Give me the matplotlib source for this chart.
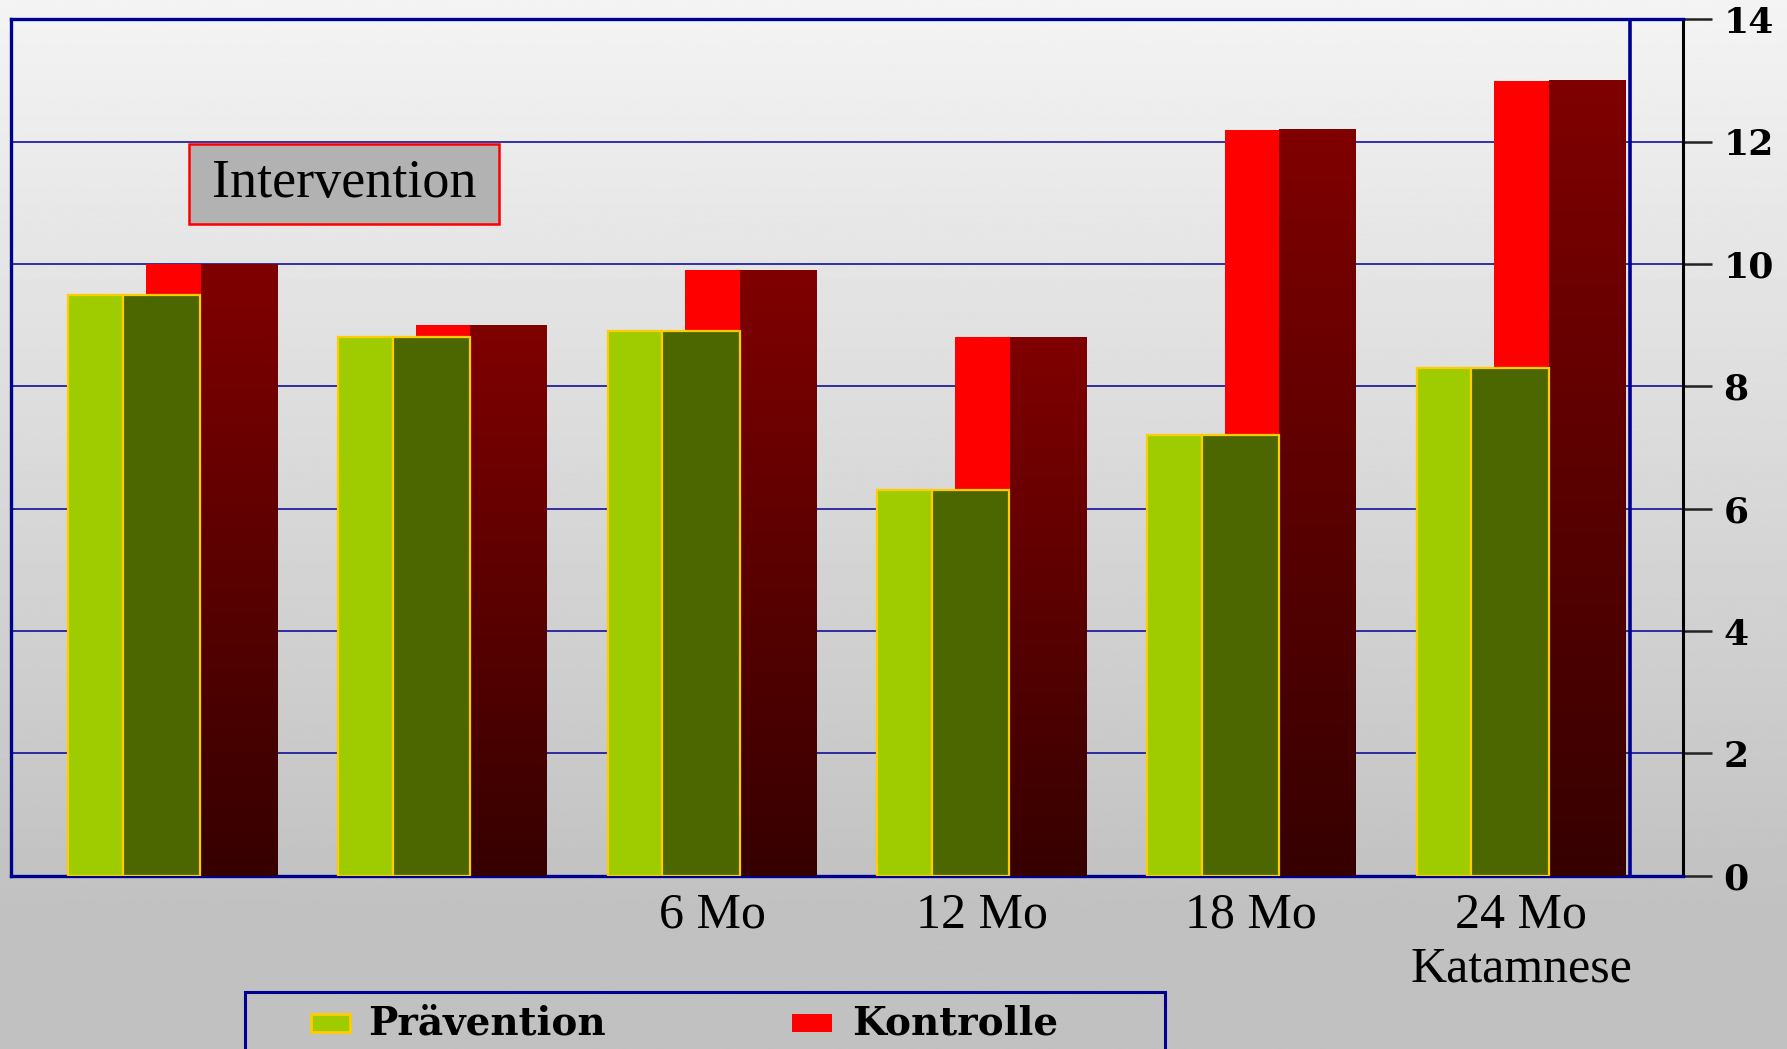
import numpy as np
import matplotlib
matplotlib.use("Agg")
from matplotlib import pyplot as plt
from matplotlib.patches import Rectangle
from matplotlib.colors import LinearSegmentedColormap

# follow-up points (first two are unlabelled)
categories = ["", "", "6 Mo", "12 Mo", "18 Mo", "24 Mo\nKatamnese"]
praevention = [9.5, 8.8, 8.9, 6.3, 7.2, 8.3]
kontrolle = [10.0, 9.0, 9.9, 8.8, 12.2, 13.0]
yticks = [0, 2, 4, 6, 8, 10, 12, 14]
series_names = ["Prävention", "Kontrolle"]

navy = "#000090"
light_green = "#9FCC00"
dark_green = "#4C6600"
gold = "#FFCC00"

fig = plt.figure(figsize=(17.87, 10.49), dpi=100)

# background: light grey fading to silver towards the bottom
bg = fig.add_axes([0, 0, 1, 1], zorder=-10)
rows = np.linspace(0, 1, 400)
shade = np.clip(0.955 - (0.955 - 0.76) * rows / 0.85, 0.755, 1)
bg.imshow(shade[:, None], cmap="gray", vmin=0, vmax=1, aspect="auto",
          extent=[0, 1, 0, 1], origin="upper")
bg.axis("off")

ax = fig.add_axes([0.00638, 0.1652, 0.9356, 0.8163])
ax.set_facecolor("none")
x = np.arange(len(categories))

# each bar is a front face plus a darker side face
ax.bar(x - 0.387, praevention, width=0.203, align="edge", color=light_green,
       edgecolor=gold, linewidth=1.6, zorder=4)
ax.bar(x - 0.184, praevention, width=0.287, align="edge", color=dark_green,
       edgecolor=gold, linewidth=1.6, zorder=4)
ax.bar(x - 0.099, kontrolle, width=0.203, align="edge", color="#FF0000",
       linewidth=0, zorder=3)
sides = ax.bar(x + 0.104, kontrolle, width=0.283, align="edge", color="#800000",
               linewidth=0, zorder=3)

# dark red side faces shade to near black at the base
red_fade = LinearSegmentedColormap.from_list("redfade", ["#360000", "#800000"])
grad = np.linspace(0, 1, 256)[:, None]
for p in sides:
    x0, y0 = p.get_x(), p.get_y()
    ax.imshow(grad, cmap=red_fade, aspect="auto", origin="lower",
              extent=[x0, x0 + p.get_width(), y0, y0 + p.get_height()], zorder=3.5)

ax.set_xlim(-0.598, 5.602)
ax.set_ylim(0, 14)

for v in yticks[1:-1]:
    ax.axhline(v, color=navy, linewidth=1.1, zorder=1)
ax.axvline(5.404, color=navy, linewidth=2.6, zorder=5)

for side in ["left", "top", "bottom"]:
    ax.spines[side].set_color(navy)
    ax.spines[side].set_linewidth(2.4)
ax.spines["right"].set_color("black")
ax.spines["right"].set_linewidth(2.2)

ax.yaxis.tick_right()
ax.set_yticks(yticks)
ax.set_yticklabels([str(v) for v in yticks], family="DejaVu Serif",
                   fontweight="bold", fontsize=26)
ax.tick_params(axis="y", length=21, width=1.8, color="#222222", pad=8)

ax.set_xticks(x)
ax.set_xticklabels(categories, family="Liberation Serif", fontsize=36,
                   linespacing=1.2)
ax.tick_params(axis="x", length=0, pad=12)

# label box in the upper left
ax.add_patch(Rectangle((0.061, 10.66), 1.15, 1.31, facecolor="#B2B2B2",
                       edgecolor="#FF0000", linewidth=1.8, zorder=6))
ax.text(0.636, 11.32, "Intervention", family="Liberation Serif", fontsize=39,
        ha="center", va="center", zorder=7)

# legend box, cut off by the lower edge of the figure
fig.patches.append(Rectangle((0.137, -0.05), 0.515, 0.1043, transform=fig.transFigure,
                             facecolor="none", edgecolor=navy, linewidth=2.2))
fig.patches.append(Rectangle((0.1741, 0.0163), 0.0217, 0.0174, transform=fig.transFigure,
                             facecolor=light_green, edgecolor=gold, linewidth=2))
fig.patches.append(Rectangle((0.4432, 0.0163), 0.0223, 0.0174, transform=fig.transFigure,
                             facecolor="#FF0000", edgecolor="none"))
fig.text(0.206, 0.024, series_names[0], family="DejaVu Serif", fontweight="bold",
         fontsize=28, va="center")
fig.text(0.477, 0.024, series_names[1], family="DejaVu Serif", fontweight="bold",
         fontsize=28, va="center")

fig.savefig("out.png", dpi=100)
